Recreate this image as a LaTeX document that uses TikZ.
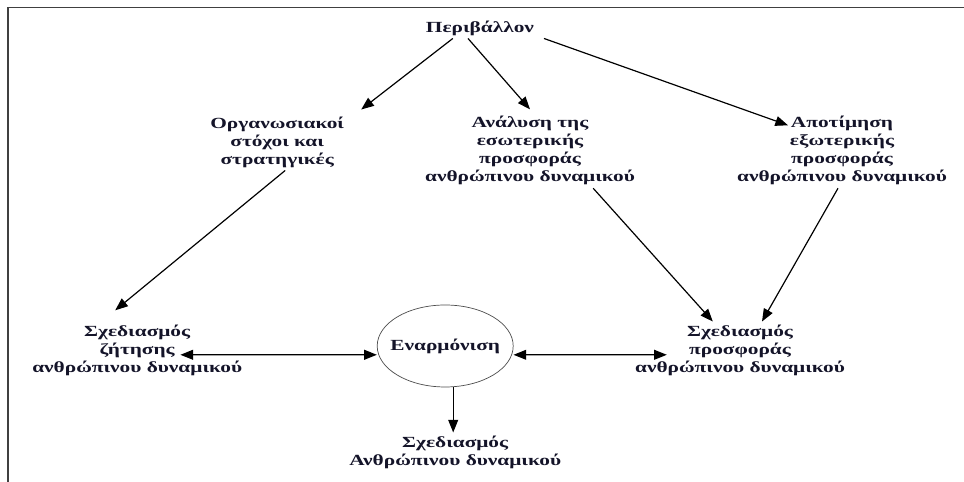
\documentclass[tikz,border=0pt]{standalone}
\usepackage{fontspec}
\setmainfont{Liberation Serif}[FakeStretch=1.38]
\usepackage{tikz}
\usetikzlibrary{shapes.geometric,arrows.meta}

\definecolor{inkc}{rgb}{0.08,0.08,0.16}
\definecolor{framec}{rgb}{0.25,0.25,0.25}

\tikzset{
  lbl/.style={align=center, text=inkc, font=\fontsize{11}{12.8}\selectfont\bfseries, inner sep=2pt},
  arr/.style={-{Triangle[length=9pt,width=7pt]}, line width=0.85pt},
  dbl/.style={{Triangle[length=9pt,width=7pt]}-{Triangle[length=9pt,width=7pt]}, line width=0.85pt},
  oval/.style={ellipse, draw=black!70, line width=0.5pt, minimum width=3.4cm, minimum height=2.05cm, inner xsep=-0.25cm, inner ysep=0pt}
}

\begin{document}
\begin{tikzpicture}
        \useasboundingbox (0,0) rectangle (24.1,12.05);

        % Frame
        \draw[framec, line width=1.1pt] (0.2,0) -- (0.2,11.86) -- (24.1,11.86);

        % Top
        \node[lbl] (env) at (12,11.35) {Περιβάλλον};

        % Middle row
        \node[lbl] (org) at (6.93,8.5) {Οργανωσιακοί\\στόχοι και\\στρατηγικές};
        \node[lbl] (ana) at (13.25,8.28) {Ανάλυση της\\εσωτερικής\\προσφοράς\\ανθρώπινου δυναμικού};
        \node[lbl] (apo) at (21.05,8.28) {Αποτίμηση\\εξωτερικής\\προσφοράς\\ανθρώπινου δυναμικού};

        % Bottom row
        \node[lbl] (dem) at (3.43,3.3) {Σχεδιασμός\\ζήτησης\\ανθρώπινου δυναμικού};
        \node[lbl, oval] (harm) at (11.13,3.4) {Εναρμόνιση};
        \node[lbl] (sup) at (18.5,3.3) {Σχεδιασμός\\προσφοράς\\ανθρώπινου δυναμικού};
        \node[lbl] (plan) at (11.38,0.75) {Σχεδιασμός\\Ανθρώπινου δυναμικού};

        % Arrows from the environment
        \draw[arr] ([xshift=-0.68cm]env.south) -- ([xshift=2.1cm,yshift=0.1cm]org.north);
        \draw[arr] ([xshift=-0.3cm]env.south) -- ([yshift=0.1cm]ana.north);
        \draw[arr] ([xshift=1.6cm]env.south) -- ([xshift=-1.35cm,yshift=-0.3cm]apo.north);

        % Arrows to the planning
        \draw[arr] ([xshift=0.2cm]org.south) -- ([xshift=-0.55cm,yshift=0.28cm]dem.north);
        \draw[arr] ([xshift=1.58cm]ana.south) -- ([xshift=-0.68cm]sup.north);
        \draw[arr] ([xshift=-0.1cm]apo.south) -- ([xshift=0.55cm]sup.north);

        % Harmonisation
        \draw[dbl] ([xshift=1.08cm,yshift=-0.12cm]dem.center) -- ([yshift=-0.22cm]harm.west);
        \draw[dbl] ([yshift=-0.22cm]harm.east) -- ([xshift=-1.83cm,yshift=-0.12cm]sup.center);
        \draw[arr] ([xshift=0.2cm]harm.south) -- ([xshift=0.2cm]harm.south |- plan.north);
    \end{tikzpicture}
\end{document}
